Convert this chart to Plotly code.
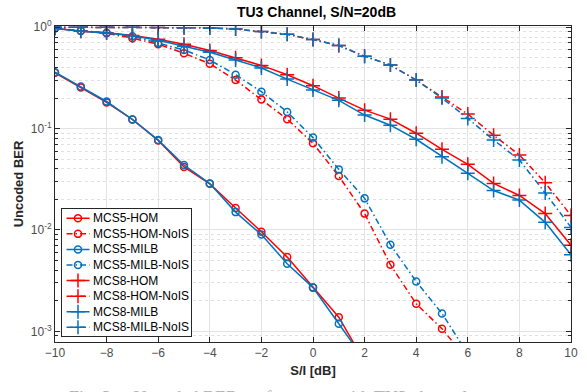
import plotly.graph_objects as go

snr = [-10, -9, -8, -7, -6, -5, -4, -3, -2, -1, 0, 1, 2, 3, 4, 5, 6, 7, 8, 9, 10]

mcs5_hom = [0.355, 0.255, 0.181, 0.123, 0.0765, 0.0418, 0.0285, 0.0165, 0.0096, 0.0054, 0.0027, 0.00138, 0.00050]
mcs5_hom_nois = [0.975, 0.92, 0.87, 0.78, 0.68, 0.553, 0.437, 0.301, 0.194, 0.124, 0.0716, 0.034, 0.0145, 0.00454, 0.00187, 0.00106, 0.00052]
mcs5_milb = [0.36, 0.26, 0.185, 0.123, 0.077, 0.0437, 0.0287, 0.015, 0.0090, 0.00465, 0.0027, 0.00119, 0.00052]
mcs5_milb_nois = [0.975, 0.925, 0.88, 0.815, 0.70, 0.597, 0.475, 0.34, 0.231, 0.146, 0.0815, 0.0396, 0.0205, 0.00716, 0.0031, 0.0015, 0.0006]
mcs8_hom = [0.975, 0.915, 0.88, 0.83, 0.76, 0.68, 0.59, 0.50, 0.42, 0.34, 0.265, 0.20, 0.152, 0.124, 0.090, 0.0625, 0.0444, 0.0288, 0.0219, 0.0145, 0.00706]
mcs8_hom_nois = [1.0, 1.0, 1.0, 0.998, 0.995, 0.99, 0.985, 0.96, 0.906, 0.85, 0.755, 0.66, 0.516, 0.424, 0.301, 0.205, 0.139, 0.086, 0.055, 0.0292, 0.0139]
mcs8_milb = [0.97, 0.91, 0.875, 0.825, 0.745, 0.65, 0.565, 0.475, 0.396, 0.308, 0.24, 0.19, 0.136, 0.108, 0.0785, 0.0528, 0.0362, 0.0245, 0.0197, 0.0119, 0.0057]
mcs8_milb_nois = [1.0, 1.0, 1.0, 0.998, 0.995, 0.99, 0.985, 0.96, 0.906, 0.85, 0.755, 0.66, 0.516, 0.424, 0.301, 0.200, 0.126, 0.0773, 0.049, 0.0232, 0.0106]

series_names = ["MCS5-HOM", "MCS5-HOM-NoIS", "MCS5-MILB", "MCS5-MILB-NoIS",
                "MCS8-HOM", "MCS8-HOM-NoIS", "MCS8-MILB", "MCS8-MILB-NoIS"]
series_values = [mcs5_hom, mcs5_hom_nois, mcs5_milb, mcs5_milb_nois,
                 mcs8_hom, mcs8_hom_nois, mcs8_milb, mcs8_milb_nois]

ytick_vals = [1e-3, 1e-2, 1e-1, 1]
ytick_text = ["10<sup>-3</sup>", "10<sup>-2</sup>", "10<sup>-1</sup>", "10<sup>0</sup>"]
xtick_vals = [-10, -8, -6, -4, -2, 0, 2, 4, 6, 8, 10]

caption = "Fig. 3.&nbsp;&nbsp;&nbsp; Uncoded BER performance with TU3 channel."

RED = "rgb(255,0,0)"
BLUE = "rgb(0,114,189)"
DASHDOT = "6px,3px,1.5px,3px"
FONT = "Liberation Sans, Arial"

styles = [
    (RED, "solid", "circle-open"),
    (RED, DASHDOT, "circle-open"),
    (BLUE, "solid", "circle-open"),
    (BLUE, DASHDOT, "circle-open"),
    (RED, "solid", "cross-thin-open"),
    (RED, DASHDOT, "cross-thin-open"),
    (BLUE, "solid", "cross-thin-open"),
    (BLUE, DASHDOT, "cross-thin-open"),
]

W, H = 587, 392
ML, MR, MT, MB = 55, 9, 26, 50
PW, PH = W - ML - MR, H - MT - MB

fig = go.Figure()
for name, vals, (color, dash, sym) in zip(series_names, series_values, styles):
    fig.add_trace(go.Scatter(
        x=snr[:len(vals)], y=vals, name=name, mode="lines+markers", showlegend=False,
        line=dict(color=color, width=1.5, dash=dash),
        marker=dict(symbol=sym, size=7 if sym == "circle-open" else 10,
                    color=color, line=dict(color=color, width=1.5)),
        xaxis="x", yaxis="y",
    ))

# legend drawn as an inset box (pixel-like units inside the box)
leg_left, leg_right, leg_top, leg_bot = 62, 193, 209, 336
item_h = 15.57
first_off = 9.3
for i, (name, (color, dash, sym)) in enumerate(zip(series_names, styles)):
    fig.add_trace(go.Scatter(
        x=[4.7, 28], y=[i, i], mode="lines", showlegend=False, hoverinfo="skip",
        line=dict(color=color, width=1.5, dash=dash), xaxis="x2", yaxis="y2",
    ))
    fig.add_trace(go.Scatter(
        x=[16.3], y=[i], mode="markers", showlegend=False, hoverinfo="skip",
        marker=dict(symbol=sym, size=7 if sym == "circle-open" else 10,
                    color=color, line=dict(color=color, width=1.5)),
        xaxis="x2", yaxis="y2",
    ))
    fig.add_annotation(
        text=name, xref="x2", yref="y2", x=29.5, y=i, xanchor="left", yanchor="middle",
        showarrow=False, font=dict(family=FONT, size=12, color="black"),
    )

minor_vals = [k * 10 ** e for e in range(-4, 1) for k in range(2, 10)]

axis_common = dict(
    showline=True, linecolor="#262626", linewidth=1, mirror="ticks",
    ticks="inside", ticklen=5, tickcolor="#262626",
    gridcolor="#e3e3e3", gridwidth=1, zeroline=False,
    tickfont=dict(family=FONT, size=12, color="#4d4d4d"),
)

fig.update_layout(
    xaxis=dict(
        domain=[0, 1], anchor="y",
        range=[-10, 10], tickmode="array", tickvals=xtick_vals,
        title=dict(text="<b>S/I [dB]</b>", font=dict(family=FONT, size=13, color="#262626"), standoff=6),
        **axis_common,
    ),
    yaxis=dict(
        domain=[0, 1], anchor="x",
        type="log", range=[-3.105, 0.012], tickmode="array", tickvals=ytick_vals, ticktext=ytick_text,
        title=dict(text="<b>Uncoded BER</b>", font=dict(family=FONT, size=13, color="#262626"), standoff=4),
        minor=dict(tickmode="array", tickvals=minor_vals, ticks="inside", ticklen=3, tickcolor="#262626",
                   showgrid=True, gridcolor="#e0e0e0", griddash="dot", gridwidth=1),
        **axis_common,
    ),
    xaxis2=dict(
        domain=[(leg_left - ML) / PW, (leg_right - ML) / PW], anchor="y2",
        range=[0, leg_right - leg_left], showgrid=False, zeroline=False, showticklabels=False,
        ticks="", showline=True, mirror=True, linecolor="#262626", linewidth=1, fixedrange=True,
    ),
    yaxis2=dict(
        domain=[(MT + PH - leg_bot) / PH, (MT + PH - leg_top) / PH], anchor="x2",
        range=[7 + (leg_bot - leg_top - first_off - 7 * item_h) / item_h, -first_off / item_h],
        showgrid=False, zeroline=False, showticklabels=False,
        ticks="", showline=True, mirror=True, linecolor="#262626", linewidth=1, fixedrange=True,
    ),
    width=W, height=H,
    margin=dict(l=ML, r=MR, t=MT, b=MB),
    paper_bgcolor="white", plot_bgcolor="white",
    title=dict(text="<b>TU3 Channel, S/N=20dB</b>", x=(ML + W - MR) / 2 / W, xanchor="center",
               y=1 - 12 / H, yanchor="middle",
               font=dict(family=FONT, size=14, color="black")),
    showlegend=False,
)

fig.add_annotation(
    text=caption,
    xref="paper", yref="paper", x=(273 - ML) / PW, y=-(385.5 - (MT + PH)) / PH,
    xanchor="center", yanchor="top",
    showarrow=False, font=dict(family="Liberation Serif, Times New Roman", size=18, color="#b0b0b0"),
)

fig.write_html("out.html")
